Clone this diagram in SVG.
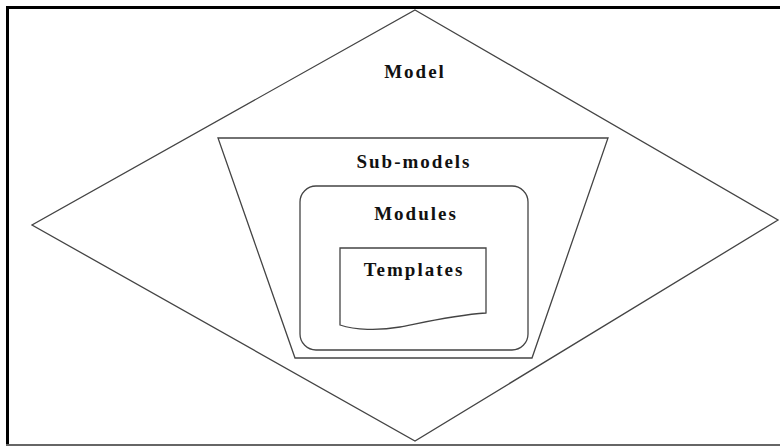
<svg xmlns="http://www.w3.org/2000/svg" width="780" height="447" viewBox="0 0 780 447">
<style>
.lbl{font-family:"Liberation Serif","Times New Roman",serif;font-weight:bold;font-size:19px;letter-spacing:2px;fill:#111;text-anchor:middle}
.shape{fill:none;stroke:#444;stroke-width:1.3}
</style>
<rect x="0" y="0" width="780" height="447" fill="#fff"/>
<g id="frame">
<line x1="6" y1="7.5" x2="780" y2="7.5" stroke="#000" stroke-width="3"/>
<line x1="7.5" y1="6" x2="7.5" y2="446" stroke="#000" stroke-width="3"/>
<line x1="6" y1="445" x2="780" y2="445" stroke="#666" stroke-width="2"/>
</g>
<g id="model">
<polygon class="shape" points="415,10 778,220 415,441 32,225" stroke="#888"/>
<text class="lbl" x="415" y="78">Model</text>
</g>
<g id="submodels">
<polygon class="shape" points="218,138 608,138 532,358 295,358"/>
<text class="lbl" x="414" y="168">Sub-models</text>
</g>
<g id="modules">
<rect class="shape" x="300" y="186" width="228" height="164" rx="16" ry="16"/>
<text class="lbl" x="416" y="220">Modules</text>
</g>
<g id="templates">
<path class="shape" d="M340,248 H486 V313 C455,315 425,322 400,327 C378,331 355,330 340,325 Z"/>
<text class="lbl" x="414" y="276">Templates</text>
</g>
<g id="connectors"></g>
</svg>
